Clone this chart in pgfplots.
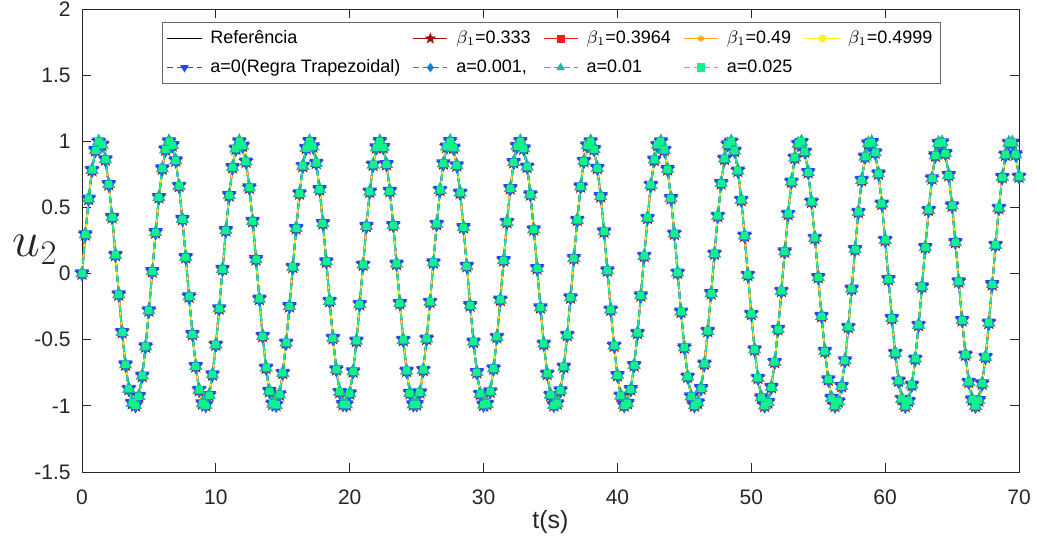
\documentclass[border=0pt]{standalone}
\usepackage{fontspec}
\setmainfont{Liberation Sans}
\usepackage{pgfplots}
\usepackage{pgfplotstable}
\pgfplotsset{compat=1.18}
\definecolor{axgray}{HTML}{262626}
\definecolor{cdred}{HTML}{A01010}
\definecolor{cred}{HTML}{FF1A1A}
\definecolor{corange}{HTML}{FFA51A}
\definecolor{cyellow}{HTML}{FFF020}
\definecolor{cblue}{HTML}{1A4CFF}
\definecolor{cmblue}{HTML}{0A80E0}
\definecolor{cteal}{HTML}{1AB8A0}
\definecolor{cgreen}{HTML}{14F08C}
\pgfdeclareplotmark{pentagram}{%
  \pgfpathmoveto{\pgfpointpolar{90}{1.2\pgfplotmarksize}}%
  \pgfpathlineto{\pgfpointpolar{126}{0.5\pgfplotmarksize}}%
  \pgfpathlineto{\pgfpointpolar{162}{1.2\pgfplotmarksize}}%
  \pgfpathlineto{\pgfpointpolar{198}{0.5\pgfplotmarksize}}%
  \pgfpathlineto{\pgfpointpolar{234}{1.2\pgfplotmarksize}}%
  \pgfpathlineto{\pgfpointpolar{270}{0.5\pgfplotmarksize}}%
  \pgfpathlineto{\pgfpointpolar{306}{1.2\pgfplotmarksize}}%
  \pgfpathlineto{\pgfpointpolar{342}{0.5\pgfplotmarksize}}%
  \pgfpathlineto{\pgfpointpolar{18}{1.2\pgfplotmarksize}}%
  \pgfpathlineto{\pgfpointpolar{54}{0.5\pgfplotmarksize}}%
  \pgfpathclose\pgfusepathqfillstroke}
\pgfplotstableread{
t u
0 0
0.25 0.296
0.5 0.565
0.75 0.783
1 0.932
1.25 0.997
1.5 0.974
1.75 0.863
2 0.675
2.25 0.427
2.5 0.141
2.75 -0.158
3 -0.443
3.25 -0.688
3.5 -0.872
3.75 -0.978
4 -0.996
4.25 -0.926
4.5 -0.773
4.75 -0.551
5 -0.279
5.25 0.017
5.5 0.312
5.75 0.578
6 0.794
6.25 0.938
6.5 0.999
6.75 0.970
7 0.855
7.25 0.663
7.5 0.412
7.75 0.124
8 -0.174
8.25 -0.458
8.5 -0.700
8.75 -0.880
9 -0.981
9.25 -0.995
9.5 -0.919
9.75 -0.762
10 -0.537
10.25 -0.263
10.5 0.034
10.75 0.327
11 0.592
11.25 0.804
11.5 0.944
11.75 0.999
12 0.966
12.25 0.846
12.5 0.650
12.75 0.397
13 0.108
13.25 -0.191
13.5 -0.472
13.75 -0.712
14 -0.888
14.25 -0.984
14.5 -0.993
14.75 -0.913
15 -0.751
15.25 -0.522
15.5 -0.247
15.75 0.050
16 0.343
16.25 0.606
16.5 0.814
16.75 0.949
17 1.000
17.25 0.961
17.5 0.837
17.75 0.637
18 0.381
18.25 0.091
18.5 -0.207
18.75 -0.487
19 -0.724
19.25 -0.895
19.5 -0.987
19.75 -0.990
20 -0.906
20.25 -0.740
20.5 -0.508
20.75 -0.231
21 0.067
21.25 0.359
21.5 0.619
21.75 0.823
22 0.954
22.25 1.000
22.5 0.956
22.75 0.827
23 0.624
23.25 0.366
23.5 0.074
23.75 -0.224
24 -0.502
24.25 -0.735
24.5 -0.903
24.75 -0.989
25 -0.988
25.25 -0.898
25.5 -0.728
25.75 -0.493
26 -0.214
26.25 0.084
26.5 0.375
26.75 0.632
27 0.833
27.25 0.959
27.5 1.000
27.75 0.951
28 0.818
28.25 0.611
28.5 0.350
28.75 0.057
29 -0.240
29.25 -0.516
29.5 -0.746
29.75 -0.910
30 -0.992
30.25 -0.985
30.5 -0.891
30.75 -0.717
31 -0.479
31.25 -0.198
31.5 0.101
31.75 0.390
32 0.645
32.25 0.842
32.5 0.964
32.75 1.000
33 0.946
33.25 0.808
33.5 0.598
33.75 0.334
34 0.041
34.25 -0.256
34.5 -0.531
34.75 -0.757
35 -0.917
35.25 -0.994
35.5 -0.982
35.75 -0.883
36 -0.705
36.25 -0.464
36.5 -0.181
36.75 0.117
37 0.406
37.25 0.658
37.5 0.851
37.75 0.968
38 0.999
38.25 0.940
38.5 0.798
38.75 0.584
39 0.318
39.25 0.024
39.5 -0.273
39.75 -0.545
40 -0.768
40.25 -0.923
40.5 -0.996
40.75 -0.979
41 -0.875
41.25 -0.693
41.5 -0.449
41.75 -0.165
42 0.134
42.25 0.421
42.5 0.670
42.75 0.860
43 0.972
43.25 0.998
43.5 0.935
43.75 0.788
44 0.570
44.25 0.302
44.5 0.007
44.75 -0.289
45 -0.559
45.25 -0.779
45.5 -0.929
45.75 -0.997
46 -0.975
46.25 -0.867
46.5 -0.681
46.75 -0.434
47 -0.148
47.25 0.151
47.5 0.436
47.75 0.683
48 0.868
48.25 0.976
48.5 0.997
48.75 0.928
49 0.777
49.25 0.557
49.5 0.286
49.75 -0.010
50 -0.305
50.25 -0.573
50.5 -0.789
50.75 -0.936
51 -0.998
51.25 -0.972
51.5 -0.858
51.75 -0.668
52 -0.419
52.25 -0.131
52.5 0.167
52.75 0.451
53 0.695
53.25 0.876
53.5 0.980
53.75 0.995
54 0.922
54.25 0.767
54.5 0.543
54.75 0.270
55 -0.027
55.25 -0.321
55.5 -0.586
55.75 -0.800
56 -0.941
56.25 -0.999
56.5 -0.967
56.75 -0.850
57 -0.656
57.25 -0.403
57.5 -0.115
57.75 0.184
58 0.466
58.25 0.707
58.5 0.884
58.75 0.983
59 0.993
59.25 0.915
59.5 0.756
59.75 0.528
60 0.254
60.25 -0.043
60.5 -0.337
60.75 -0.600
61 -0.810
61.25 -0.947
61.5 -1.000
61.75 -0.963
62 -0.841
62.25 -0.643
62.5 -0.388
62.75 -0.098
63 0.200
63.25 0.481
63.5 0.719
63.75 0.892
64 0.986
64.25 0.991
64.5 0.909
64.75 0.745
65 0.514
65.25 0.238
65.5 -0.060
65.75 -0.352
66 -0.613
66.25 -0.819
66.5 -0.952
66.75 -1.000
67 -0.958
67.25 -0.831
67.5 -0.630
67.75 -0.372
68 -0.081
68.25 0.217
68.5 0.496
68.75 0.730
69 0.899
69.25 0.988
69.5 0.989
69.75 0.901
70 0.733
}\datatab
\begin{document}
\begin{tikzpicture}
\begin{axis}[
  scale only axis,
  width=468.5pt, height=231.5pt,
  xmin=0, xmax=70, ymin=-1.5, ymax=2,
  xtick={0,10,...,70},
  ytick={-1.5,-1,-0.5,0,0.5,1,1.5,2},
  tick align=inside,
  major tick length=4.5pt,
  axis line style={axgray, line width=0.5pt},
  every tick/.style={axgray, line width=0.5pt},
  tick label style={font=\fontsize{10.5}{12}\selectfont, text=axgray, inner sep=0.5pt},
  /pgf/number format/assume math mode=true,
  xticklabel style={yshift=-8pt},
  yticklabel style={xshift=-5pt},
  xlabel={t(s)},
  xlabel style={font=\fontsize{12.5}{14}\selectfont, text=axgray, yshift=1pt},
  ylabel={$u_2$},
  ylabel style={font=\fontsize{23}{26}\selectfont, rotate=-90, text=axgray,
    at={(axis description cs:-0.05,0.48)}, anchor=center},
  legend columns=5,
  legend cell align=left,
  legend image post style={mark size=1.6pt},
  legend style={at={(0.0854,0.972)}, anchor=north west, draw=axgray!70, line width=0.5pt,
    font=\fontsize{9}{10.5}\selectfont, inner xsep=2pt, inner ysep=2pt,
    /tikz/every even column/.append style={column sep=4pt},
    /tikz/column sep=2pt, row sep=2.5pt},
]
\addplot[black, line width=0.8pt] table[x=t,y=u]{\datatab};
\addlegendentry{Referência}
\addplot[cdred, line width=0.8pt, mark=pentagram, mark size=2.4pt, mark options={fill=cdred}] table[x=t,y=u]{\datatab};
\addlegendentry{$\beta_1$=0.333}
\addplot[cred, line width=0.8pt, mark=square*, mark size=1.3pt, mark options={fill=cred}] table[x=t,y=u]{\datatab};
\addlegendentry{$\beta_1$=0.3964}
\addplot[corange, line width=0.8pt, mark=asterisk, mark size=1.8pt] table[x=t,y=u]{\datatab};
\addlegendentry{$\beta_1$=0.49}
\addplot[cyellow, line width=0.8pt, mark=*, mark size=1.4pt, mark options={fill=cyellow}] table[x=t,y=u]{\datatab};
\addlegendentry{$\beta_1$=0.4999}
\addplot[cblue, line width=0.9pt, dash pattern=on 3pt off 2pt, mark=triangle*, mark size=3.2pt, mark options={solid, fill=cblue, rotate=180}] table[x=t,y=u]{\datatab};
\addlegendentry{a=0(Regra Trapezoidal)}
\addplot[cmblue, line width=0.9pt, dash pattern=on 3pt off 2pt, mark=diamond*, mark size=2.6pt, mark options={solid, fill=cmblue}] table[x=t,y=u]{\datatab};
\addlegendentry{a=0.001,}
\addplot[cteal, line width=0.9pt, dash pattern=on 3pt off 2pt, mark=triangle*, mark size=3pt, mark options={solid, fill=cteal!60!cgreen}] table[x=t,y=u]{\datatab};
\addlegendentry{a=0.01}
\addplot[cgreen, line width=0.9pt, dash pattern=on 3pt off 2pt, mark=square*, mark size=1.3pt, mark options={solid, fill=cgreen}] table[x=t,y=u]{\datatab};
\addlegendentry{a=0.025}
\end{axis}
\path (current axis.south west) ++(-41pt,-38pt) rectangle ++(518.5pt,274pt);
\end{tikzpicture}
\end{document}
